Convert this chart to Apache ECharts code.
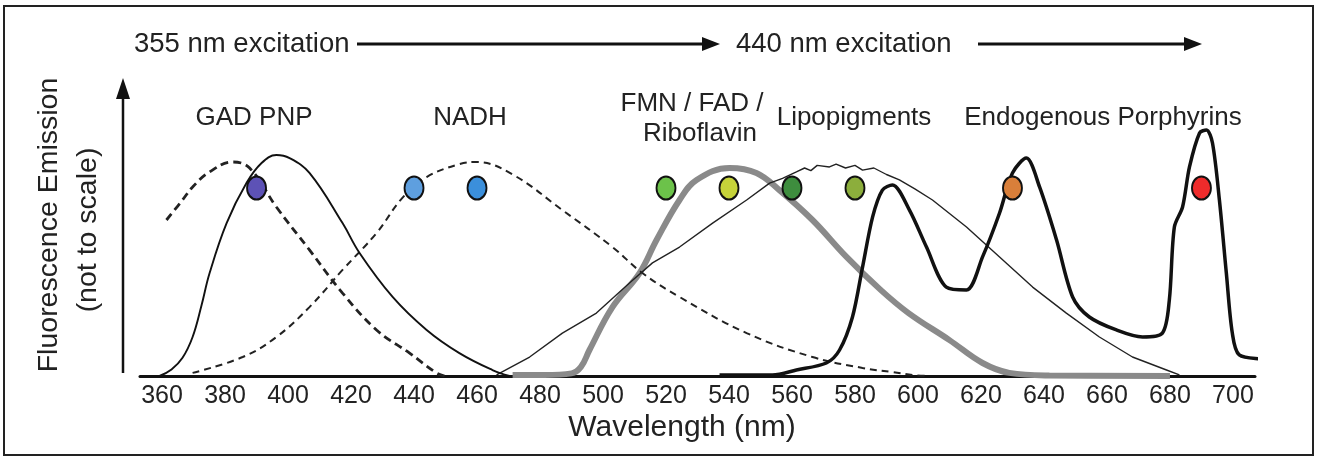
<!DOCTYPE html>
<html>
<head>
<meta charset="utf-8">
<title>Fluorescence emission spectra</title>
<script src="https://cdn.jsdelivr.net/npm/echarts@6/dist/echarts.min.js"></script>
<style>
  html, body { margin: 0; padding: 0; background: #fff; }
  #chart { width: 1319px; height: 462px; }
</style>
</head>
<body>
<div id="chart"></div>
<script>
(function () {
    'use strict';

    // x = wavelength (nm), y = relative emission (not to scale, 0..1)
    var tickLabels = [360, 380, 400, 420, 440, 460, 480, 500, 520, 540, 560, 580, 600, 620, 640, 660, 680, 700];

    var gadSolid = [[359.2, 0], [363, 0.025], [366.5, 0.07], [369.7, 0.15], [372.5, 0.27], [375.1, 0.396],
        [380.5, 0.588], [386.8, 0.742], [391.6, 0.819], [396.3, 0.85], [400.5, 0.838], [406.8, 0.781],
        [417.3, 0.588], [422.7, 0.473], [433.2, 0.304], [444, 0.177], [454.4, 0.088], [464.9, 0.023], [470.3, 0]];

    var gadDashed = [[361.4, 0.6], [366.5, 0.677], [369.7, 0.727], [375.1, 0.785], [382.4, 0.823], [387.8, 0.8],
        [396.3, 0.65], [406.8, 0.485], [417.3, 0.319], [428.1, 0.177], [438.6, 0.088], [447.1, 0.012], [449.7, 0]];

    var nadh = [[369.7, 0.012], [385.6, 0.073], [396.3, 0.15], [406.8, 0.265], [417.3, 0.408], [428.1, 0.55],
        [436.3, 0.685], [444, 0.765], [454.4, 0.815], [459.8, 0.823], [471.3, 0.775], [487.1, 0.638],
        [503, 0.496], [512.5, 0.396], [524.3, 0.304], [545.6, 0.165], [566.5, 0.073], [582.4, 0.031],
        [591.9, 0.015], [598.3, 0.004], [603, 0]];

    var flavins = [[471.3, 0.004], [481.4, 0.004], [490, 0.01], [493, 0.035], [495.7, 0.1], [503, 0.265],
        [511.6, 0.396], [517, 0.523], [524.3, 0.677], [529.7, 0.754], [540.2, 0.8], [548.7, 0.781], [556, 0.715],
        [566.5, 0.6], [577.3, 0.458], [587.8, 0.335], [597, 0.242], [610, 0.138], [620.5, 0.05],
        [629, 0.012], [641.7, 0.002], [680, 0]];

    var lipo = [[466.2, 0.004], [476.7, 0.073], [487.1, 0.165], [497.9, 0.242], [508.4, 0.358], [515.7, 0.435],
        [524.3, 0.496], [534.8, 0.588], [545.6, 0.677], [552.9, 0.742], [557, 0.76], [561.4, 0.785],
        [564, 0.8], [566, 0.79], [568, 0.81], [571.9, 0.804], [574, 0.815], [577, 0.8], [580, 0.81],
        [582.4, 0.792], [586, 0.8], [590, 0.775], [594.1, 0.754], [599, 0.72], [604.6, 0.677],
        [615.4, 0.573], [625.9, 0.458], [636.4, 0.342], [647.1, 0.242], [657.6, 0.15], [668.1, 0.073],
        [678.9, 0.023], [683, 0.004]];

    var porphyrins = [[537, 0.004], [553.8, 0.004], [561.4, 0.023], [570.9, 0.05], [575.1, 0.1], [579.2, 0.227],
        [582.4, 0.419], [585.6, 0.612], [588.7, 0.715], [591.9, 0.735], [597.3, 0.638], [602.7, 0.496],
        [609, 0.342], [615.4, 0.331], [620.5, 0.458], [625.9, 0.627], [630, 0.781], [634.4, 0.838],
        [638.6, 0.727], [644, 0.523], [649.1, 0.304], [654.4, 0.227], [663, 0.177], [671.3, 0.15],
        [677.6, 0.165], [679.8, 0.292], [681.4, 0.573], [684, 0.65], [686.2, 0.804], [689.4, 0.935],
        [691.6, 0.946], [693.5, 0.896], [695.7, 0.677], [697.9, 0.396], [699.8, 0.165], [702, 0.081],
        [710.6, 0.062], [716.3, 0.035]];

    // coloured markers for each fluorophore band
    var dotWavelengths = [390, 440, 460, 520, 540, 560, 580, 630, 690];
    var dotColors = ['#5d52b6', '#5e9fdf', '#3b8fdb', '#6cc24a', '#c6d33a', '#3e8d3e', '#8cae3c', '#d97f3a', '#ee2b2b'];
    var dotLevel = 0.723;

    var FONT = '"Liberation Sans", Arial, sans-serif';
    var INK = '#222';

    function curve(name, data, color, width, type, smooth, z) {
        return {
            name: name, type: 'line', data: data, showSymbol: false, smooth: smooth,
            z: z, clip: false,
            lineStyle: { color: color, width: width, type: type }
        };
    }

    function text(str, x, y, size, align) {
        return {
            type: 'text', x: x, y: y, z: 100,
            style: { text: str, fill: INK, fontSize: size, fontFamily: FONT, textAlign: align || 'center', textVerticalAlign: 'middle' }
        };
    }

    function arrow(x1, x2, y, head) {
        return [
            { type: 'line', z: 100, shape: { x1: x1, y1: y, x2: x2 - head, y2: y }, style: { stroke: '#111', lineWidth: 3 } },
            { type: 'polygon', z: 100, shape: { points: [[x2, y], [x2 - head, y - 7], [x2 - head, y + 7]] }, style: { fill: '#111' } }
        ];
    }

    var graphics = [
        { type: 'rect', z: 100, shape: { x: 4, y: 6, width: 1309, height: 449 }, style: { fill: 'none', stroke: '#222', lineWidth: 2 } },
        text('355 nm excitation', 134, 44, 27.5, 'left'),
        text('440 nm excitation', 736, 44, 27.5, 'left'),
        text('GAD PNP', 254, 118, 26),
        text('NADH', 470, 118, 26),
        text('FMN / FAD /', 692, 104, 26),
        text('Riboflavin', 700, 134, 26),
        text('Lipopigments', 854, 118, 26),
        text('Endogenous Porphyrins', 1103, 118, 26),
        text('Wavelength (nm)', 682, 428, 30),
        { type: 'text', x: 49, y: 225, rotation: Math.PI / 2, z: 100,
          style: { text: 'Fluorescence Emission', fill: INK, fontSize: 28.5, fontFamily: FONT, textAlign: 'center', textVerticalAlign: 'middle' } },
        { type: 'text', x: 88, y: 230, rotation: Math.PI / 2, z: 100,
          style: { text: '(not to scale)', fill: INK, fontSize: 28.5, fontFamily: FONT, textAlign: 'center', textVerticalAlign: 'middle' } },
        { type: 'line', z: 100, shape: { x1: 123, y1: 373, x2: 123, y2: 96 }, style: { stroke: '#111', lineWidth: 2.5 } },
        { type: 'polygon', z: 100, shape: { points: [[123, 78], [116, 99], [130, 99]] }, style: { fill: '#111' } }
    ].concat(arrow(357, 720, 44, 18), arrow(978, 1202, 44, 18));

    var chart = echarts.init(document.getElementById('chart'), null, { renderer: 'canvas' });

    chart.setOption({
        backgroundColor: '#fff',
        animation: false,
        grid: { left: 140, right: 64, top: 116, bottom: 86 },
        xAxis: {
            type: 'value', min: 353, max: 707,
            axisLine: { show: true, lineStyle: { color: '#111', width: 3 } },
            axisTick: { show: false },
            splitLine: { show: false },
            axisLabel: { customValues: tickLabels, color: INK, fontSize: 25, fontFamily: FONT, margin: 8 }
        },
        yAxis: {
            type: 'value', min: 0, max: 1, show: false
        },
        graphic: graphics,
        series: [
            curve('FMN / FAD / Riboflavin', flavins, '#8a8a8a', 6, 'solid', 0.4, 2),
            curve('Lipopigments', lipo, '#222', 1.4, 'solid', false, 3),
            curve('NADH', nadh, '#222', 2, [7, 5], 0.4, 3),
            curve('GAD PNP (dashed)', gadDashed, '#222', 2.8, [8, 5], 0.4, 3),
            curve('GAD PNP', gadSolid, '#111', 1.9, 'solid', 0.4, 3),
            curve('Endogenous Porphyrins', porphyrins, '#111', 3.5, 'solid', 0.3, 4),
            {
                name: 'bands', type: 'scatter', z: 10, symbol: 'circle', symbolSize: [19, 23],
                data: dotWavelengths.map(function (w, i) {
                    return { value: [w, dotLevel], itemStyle: { color: dotColors[i] } };
                }),
                itemStyle: { borderColor: '#111', borderWidth: 2, opacity: 1 }
            }
        ]
    });
})();
</script>
</body>
</html>
